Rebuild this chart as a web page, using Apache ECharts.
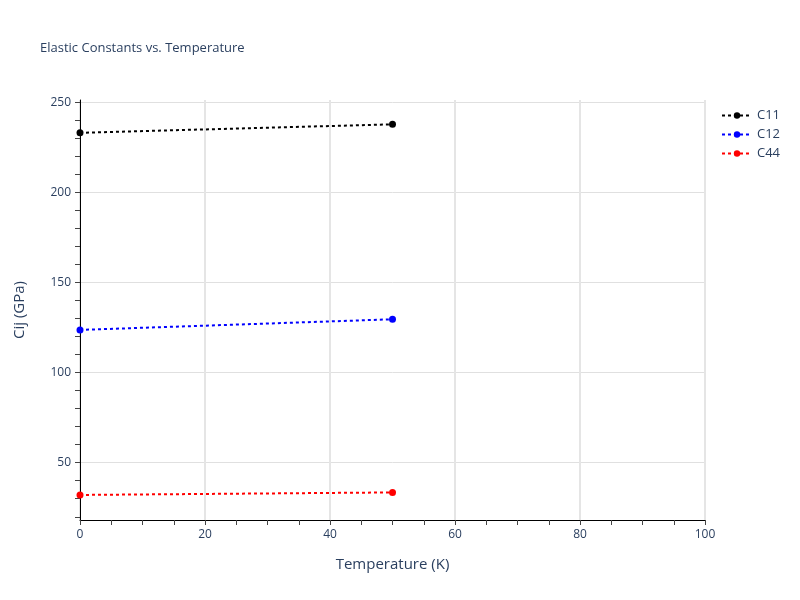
<!DOCTYPE html>
<html>
<head>
<meta charset="utf-8">
<script src="https://cdn.jsdelivr.net/npm/echarts@6/dist/echarts.min.js"></script>
<style>
  html, body { margin: 0; padding: 0; background: #fff; }
  #chart { width: 800px; height: 600px; }
</style>
</head>
<body>
<div id="chart"></div>
<script>
var temperature = [0, 50];
var c11 = [233.1, 237.8];
var c12 = [123.7, 129.6];
var c44 = [32.1, 33.5];
var yLabels = [50, 100, 150, 200, 250];
var yMinorTicks = [20, 30, 40, 50, 60, 70, 80, 90, 100, 110, 120, 130, 140, 150, 160, 170, 180, 190, 200, 210, 220, 230, 240, 250];

var myChart = echarts.init(document.getElementById("chart"));

function pairs(ys) {
    return temperature.map(function (t, i) { return [t, ys[i]]; });
}

function makeSeries(name, color, ys) {
    return {
        name: name,
        type: 'line',
        data: pairs(ys),
        symbol: 'circle',
        symbolSize: 7,
        showSymbol: true,
        clip: false,
        itemStyle: { color: color },
        lineStyle: { color: color, width: 2, type: [3, 3] }
    };
}

var textColor = '#2a3f5f';
var yMin = 18.2, yMax = 251.3;

var option = {
    backgroundColor: '#fff',
    title: {
        text: 'Elastic Constants vs. Temperature',
        left: 35,
        top: 37,
        textStyle: { fontFamily: 'Open Sans', fontSize: 13, fontWeight: 'normal', color: textColor }
    },
    legend: {
        orient: 'vertical',
        left: 716,
        top: 104,
        itemWidth: 30,
        itemHeight: 8,
        itemGap: 6,
        data: ['C11', 'C12', 'C44'],
        textStyle: { fontFamily: 'Open Sans', fontSize: 13, color: textColor }
    },
    grid: { left: 80, right: 95, top: 100, bottom: 80 },
    xAxis: {
        type: 'value',
        min: 0,
        max: 100,
        interval: 20,
        name: 'Temperature (K)',
        nameLocation: 'middle',
        nameGap: 37,
        nameTextStyle: { fontFamily: 'Open Sans', fontSize: 15, color: textColor },
        axisLine: { show: true, onZero: false, lineStyle: { color: '#000', width: 1 } },
        axisTick: { show: true, length: 5, lineStyle: { color: '#444' } },
        minorTick: { show: true, splitNumber: 4, length: 5, lineStyle: { color: '#444' } },
        axisLabel: { fontFamily: 'Open Sans', fontSize: 12, color: textColor, margin: 9 },
        splitLine: { show: true, lineStyle: { color: '#e5e5e5', width: 2 } }
    },
    yAxis: [{
        type: 'value',
        min: yMin,
        max: yMax,
        name: 'Cij (GPa)',
        nameLocation: 'middle',
        nameGap: 53,
        nameTextStyle: { fontFamily: 'Open Sans', fontSize: 15, color: textColor },
        axisLine: { show: true, onZero: false, lineStyle: { color: '#000', width: 1 } },
        axisTick: { show: true, length: 5, customValues: yLabels, lineStyle: { color: '#444' } },
        axisLabel: { fontFamily: 'Open Sans', fontSize: 12, color: textColor, margin: 9, customValues: yLabels },
        splitLine: { show: true, lineStyle: { color: '#e0e0e0', width: 1 } }
    }, {
        type: 'value',
        position: 'left',
        offset: 0,
        min: yMin,
        max: yMax,
        axisLine: { show: false },
        axisTick: { show: true, length: 5, customValues: yMinorTicks, lineStyle: { color: '#444' } },
        axisLabel: { show: false },
        splitLine: { show: false }
    }],
    series: [
        makeSeries('C11', '#000000', c11),
        makeSeries('C12', '#0000ff', c12),
        makeSeries('C44', '#ff0000', c44)
    ]
};

myChart.setOption(option);
</script>
</body>
</html>
